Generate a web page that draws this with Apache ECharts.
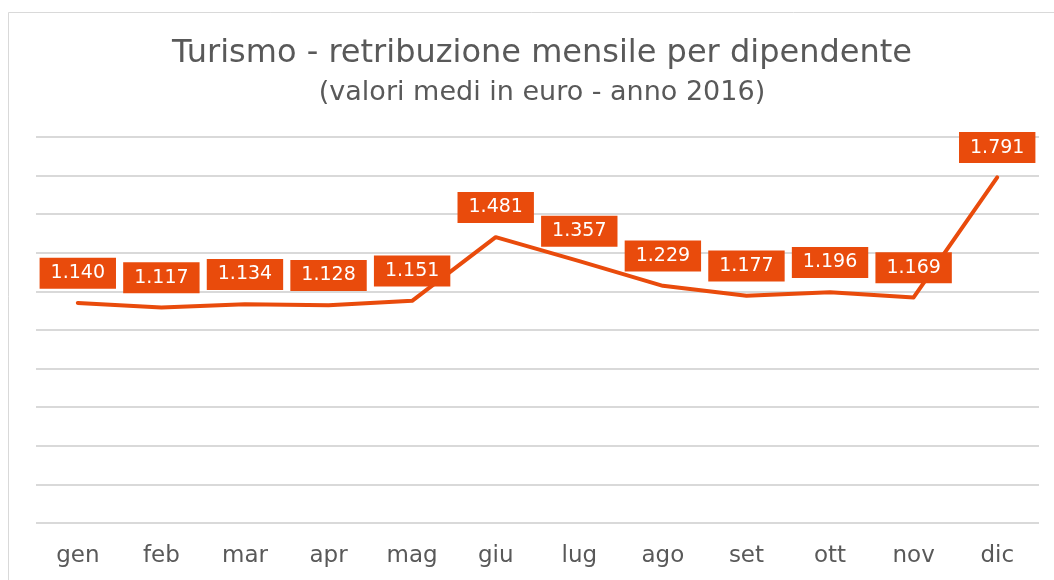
<!DOCTYPE html>
<html>
<head>
<meta charset="utf-8">
<script src="https://cdn.jsdelivr.net/npm/echarts@6/dist/echarts.min.js"></script>
<style>
html,body{margin:0;padding:0;background:#fff;}
#c{width:1054px;height:580px;}
</style>
</head>
<body>
<div id="c"></div>
<script>
const categories = ['gen','feb','mar','apr','mag','giu','lug','ago','set','ott','nov','dic'];
const values = [1140,1117,1134,1128,1151,1481,1357,1229,1177,1196,1169,1791];
const yTicks = [0,200,400,600,800,1000,1200,1400,1600,1800,2000];

function fmt(v){
  const s = String(Math.round(v));
  return s.replace(/\B(?=(\d{3})+(?!\d))/g,'.');
}

const chart = echarts.init(document.getElementById('c'), null, {renderer:'canvas'});
const RED = '#E94B0C';
chart.setOption({
  animation:false,
  backgroundColor:'#fff',
  title:[
    {text:'Turismo - retribuzione mensile per dipendente', left:537, textAlign:'center', top:33,
     textStyle:{fontFamily:'DejaVu Sans', fontSize:32, fontWeight:'normal', color:'#595959'}},
    {text:'(valori medi in euro - anno 2016)', left:537, textAlign:'center', top:74,
     textStyle:{fontFamily:'DejaVu Sans', fontSize:27, fontWeight:'normal', color:'#595959'}}
  ],
  graphic:[{type:'rect', shape:{x:8.5,y:12.5,width:1100,height:700}, style:{fill:null, stroke:'#d9d9d9', lineWidth:1}, silent:true, z:-1}],
  grid:{left:36, right:15, top:137, bottom:57},
  xAxis:{type:'category', data:categories, boundaryGap:true,
    axisLine:{show:false}, axisTick:{show:false},
    axisLabel:{margin:22, fontFamily:'DejaVu Sans', fontSize:23, color:'#595959'}},
  yAxis:{type:'value', min:yTicks[0], max:yTicks[yTicks.length-1], interval:yTicks[1]-yTicks[0],
    axisLabel:{show:false}, axisLine:{show:false}, axisTick:{show:false},
    splitLine:{lineStyle:{color:'#d9d9d9', width:2}}},
  series:[{type:'line', data:values, showSymbol:true, symbol:'circle', symbolSize:0.5,
    itemStyle:{color:'rgba(0,0,0,0)'},
    lineStyle:{color:RED, width:4, cap:'round', join:'round'},
    label:{show:true, opacity:1, position:'top', distance:14, formatter:p=>fmt(p.value),
      backgroundColor:RED, color:'#fff', fontFamily:'DejaVu Sans', fontSize:19,
      padding:[5,11,5,11], lineHeight:21}
  }]
});
</script>
</body>
</html>
